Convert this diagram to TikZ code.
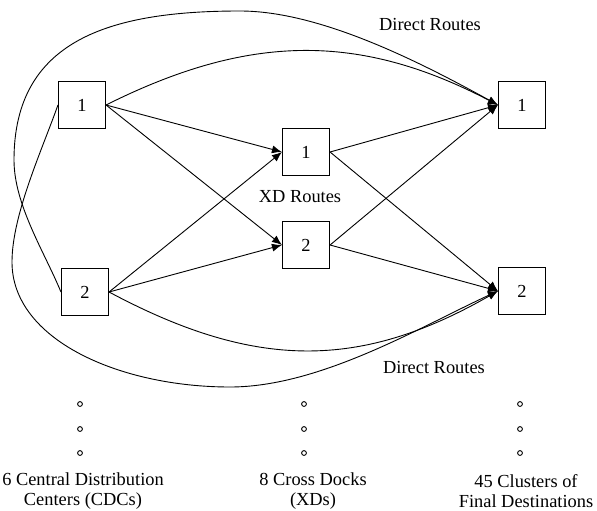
\documentclass[tikz,border=0pt]{standalone}
\usepackage{fontspec}
\setmainfont{Liberation Serif}
\usetikzlibrary{arrows.meta}

\tikzset{
  site/.style={draw, line width=1.1pt, minimum size=47pt, inner sep=0pt},
  route/.style={line width=0.9pt, -{Latex[length=10pt,width=8pt]}},
  link/.style={line width=0.9pt},
  caption/.style={align=center, inner sep=0pt}
}

\begin{document}
\begin{tikzpicture}[x=1pt, y=-1pt, every node/.style={font=\fontsize{18.4}{20.5}\selectfont}]
  \useasboundingbox (0,0) rectangle (597,511);
  % three columns of sites
  \node[site] (cdc1) at (82,105) {1};
  \node[site] (cdc2) at (85,292) {2};
  \node[site] (xd1) at (306,152) {1};
  \node[site] (xd2) at (306,245) {2};
  \node[site] (fd1) at (522,105) {1};
  \node[site] (fd2) at (522,291) {2};
  % routes through the cross docks
  \draw[route] (cdc1.east) -- (xd1.west);
  \draw[route] (cdc1.east) -- (xd2.west);
  \draw[route] (cdc2.east) -- (xd1.west);
  \draw[route] (cdc2.east) -- (xd2.west);
  \draw[route] (xd1.east) -- (fd1.west);
  \draw[route] (xd1.east) -- (fd2.west);
  \draw[route] (xd2.east) -- (fd1.west);
  \draw[route] (xd2.east) -- (fd2.west);
  % direct routes, inner pair
  \draw[route] (cdc1.east) .. controls (250,33) and (360,33) .. (fd1.west);
  \draw[route] (cdc2.east) .. controls (255,370) and (360,370) .. (fd2.west);
  % direct routes, outer pair around the left side
  \draw[route] (cdc2.west) .. controls (45,253) and (14,205) .. (14,160)
    .. controls (14,40) and (110,11) .. (240,11)
    .. controls (320,11) and (420,62) .. (fd1.west);
  \draw[route] (cdc1.west) .. controls (42,150) and (12,215) .. (12,262)
    .. controls (12,340) and (120,387) .. (230,387)
    .. controls (320,387) and (420,327) .. (fd2.west);
  \node (top) at (430,24) {Direct Routes};
  \node (mid) at (300,197) {XD Routes};
  \node (bot) at (434,367) {Direct Routes};
  % more sites than drawn
  \foreach \x in {80,304,520}
    \foreach \y in {404,429,453}
      \draw[link] (\x,\y) circle (2.4pt);
  \node[caption] (lcdc) at (83,491) {6 Central Distribution\\Centers (CDCs)};
  \node[caption] (lxd) at (313,491) {8 Cross Docks\\(XDs)};
  \node[caption] (lfd) at (526,491) {45 Clusters of\\Final Destinations};
\end{tikzpicture}
\end{document}
